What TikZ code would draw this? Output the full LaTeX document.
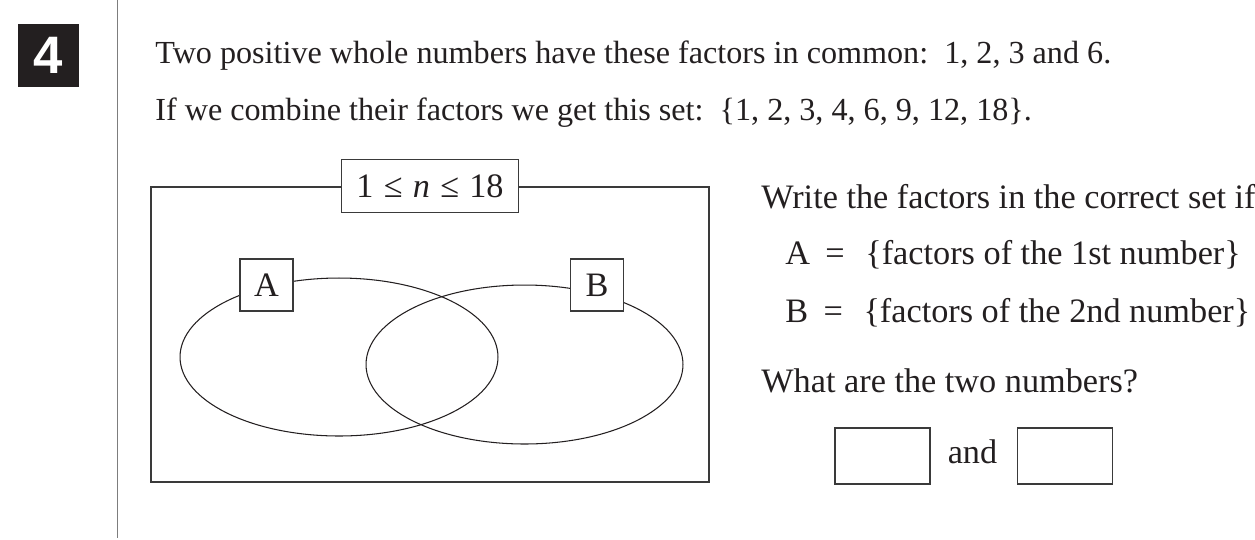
\documentclass[tikz,border=0pt]{standalone}
\usepackage{fontspec}
\setmainfont{Liberation Serif}
\newfontfamily\qnumfont{Liberation Sans}
\usetikzlibrary{positioning,shapes.geometric}
\definecolor{inkBlack}{RGB}{35,31,32}
\definecolor{frameGrey}{RGB}{58,58,58}
\definecolor{ruleGrey}{RGB}{125,125,125}
\tikzset{
  qtext/.style={text=inkBlack, font=\fontsize{19.5}{23}\selectfont, inner sep=0pt, anchor=base west},
  introtext/.style={qtext, font=\fontsize{18.3}{22}\selectfont},
  numbox/.style={fill=inkBlack, text=white, font=\qnumfont\bfseries\fontsize{30}{30}\selectfont, minimum width=1.22cm, minimum height=1.26cm, inner sep=0pt},
  univbox/.style={draw=frameGrey, line width=0.8pt, minimum width=11.16cm, minimum height=5.9cm, inner sep=0pt},
  setshape/.style={ellipse, draw=inkBlack, line width=0.6pt, inner sep=0pt},
  tagbox/.style={draw=frameGrey, fill=white, line width=0.7pt, inner sep=0pt, text=inkBlack, font=\fontsize{19.5}{23}\selectfont, minimum width=1.06cm, minimum height=1.04cm},
  rangebox/.style={tagbox, minimum width=3.54cm, minimum height=1.06cm},
  ansbox/.style={draw=frameGrey, line width=0.7pt, minimum width=1.9cm, minimum height=1.12cm, inner sep=0pt}
}
\begin{document}
\begin{tikzpicture}[x=0.02cm, y=-0.02cm]
  \clip (0,0) rectangle (1255,539);
  \node[numbox] (qnum) at (48.5,55.5) {4};
  \draw[draw=ruleGrey, line width=0.55pt] (117,0) -- (117,538);
  \node[introtext] (intro) at (155,63) {Two positive whole numbers have these factors in common:\hspace{0.5em}1, 2, 3 and 6.};
  \node[introtext] (combined) at (155,120) {If we combine their factors we get this set:\hspace{0.5em}\{1, 2, 3, 4, 6, 9, 12, 18\}.};
  \node[univbox] (univ) at (430,334.5) {};
  \node[setshape, minimum width=6.36cm, minimum height=3.16cm] (setA) at (339,357) {};
  \node[setshape, minimum width=6.34cm, minimum height=3.18cm] (setB) at (524.5,364.5) {};
  \node[rangebox] (range) at (univ.north) {1\hspace{0.3em}≤\hspace{0.3em}\textit{n}\hspace{0.3em}≤\hspace{0.3em}18};
  \node[tagbox] (tagA) at (266.5,285) {A};
  \node[tagbox] (tagB) at (597,285) {B};
  \node[qtext] (task) at (761,208) {Write the factors in the correct set if};
  \node[qtext] (defA) at (785,264) {A\hspace{0.45em}=\hspace{0.6em}\{factors of the 1st number\}};
  \node[qtext] (defB) at (785,322) {B\hspace{0.45em}=\hspace{0.6em}\{factors of the 2nd number\}};
  \node[qtext] (ask) at (761,392) {What are the two numbers?};
  \node[ansbox] (ansA) at (882.5,456) {};
  \node[ansbox, right=1.72cm of ansA] (ansB) {};
  \node[qtext, anchor=base] (andword) at (972.5,463) {and};
\end{tikzpicture}
\end{document}
